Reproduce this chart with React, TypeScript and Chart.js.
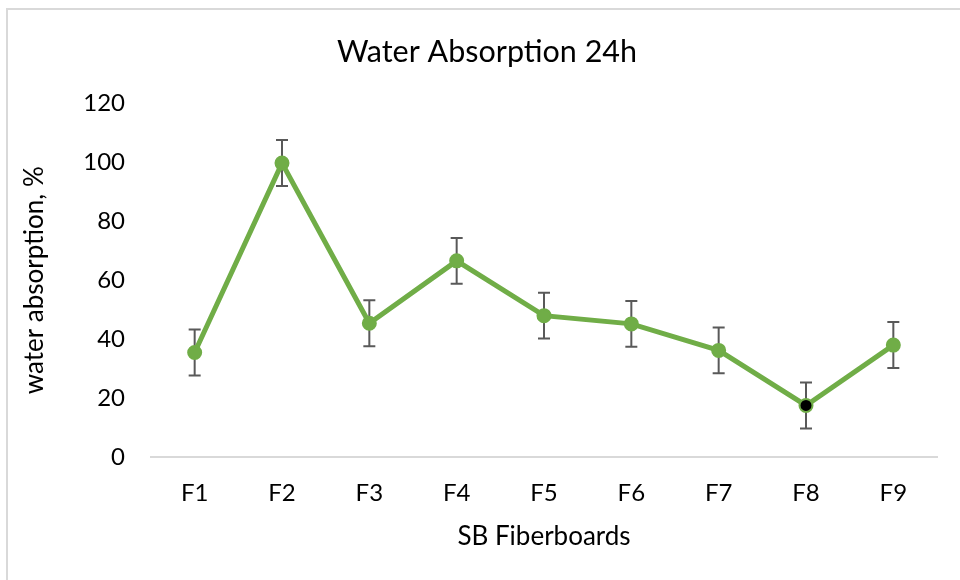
import React, { useEffect, useRef } from "react";
import { Chart, registerables } from "chart.js";

Chart.register(...registerables);

const categories = ["F1", "F2", "F3", "F4", "F5", "F6", "F7", "F8", "F9"];
const absorption = [35.5, 99.8, 45.4, 66.6, 48.0, 45.2, 36.2, 17.5, 38.0];
const errors = [7.8, 7.8, 7.8, 7.8, 7.8, 7.8, 7.8, 7.8, 7.8];
const yTicks = [0, 20, 40, 60, 80, 100, 120];

const GREEN = "#70ad47";
const FONT = "Lato, 'Open Sans', sans-serif";

const errorBarPlugin = {
  id: "errorBars",
  beforeDatasetsDraw(chart: any) {
    const { ctx, scales } = chart;
    const xs = scales.x;
    const ys = scales.y;
    ctx.save();
    ctx.strokeStyle = "#595959";
    ctx.lineWidth = 2;
    absorption.forEach((v, i) => {
      const x = xs.getPixelForValue(i);
      const yt = ys.getPixelForValue(v + errors[i]);
      const yb = ys.getPixelForValue(v - errors[i]);
      ctx.beginPath();
      ctx.moveTo(x, yt);
      ctx.lineTo(x, yb);
      ctx.moveTo(x - 6, yt);
      ctx.lineTo(x + 6, yt);
      ctx.moveTo(x - 6, yb);
      ctx.lineTo(x + 6, yb);
      ctx.stroke();
    });
    ctx.restore();
  },
};

const framePlugin = {
  id: "frame",
  beforeDraw(chart: any) {
    const { ctx, width, height } = chart;
    ctx.save();
    ctx.fillStyle = "#ffffff";
    ctx.fillRect(0, 0, width, height);
    ctx.strokeStyle = "#d9d9d9";
    ctx.lineWidth = 2;
    ctx.beginPath();
    ctx.moveTo(7, height);
    ctx.lineTo(7, 9);
    ctx.lineTo(width, 9);
    ctx.stroke();
    ctx.restore();
  },
};

export default function App() {
  const ref = useRef<HTMLCanvasElement | null>(null);

  useEffect(() => {
    if (!ref.current) return;
    const chart = new Chart(ref.current, {
      type: "line",
      data: {
        labels: categories,
        datasets: [
          {
            data: absorption,
            borderColor: GREEN,
            borderWidth: 5,
            pointRadius: 6.5,
            pointBorderWidth: 2,
            pointBorderColor: GREEN,
            pointBackgroundColor: categories.map((c) => (c === "F8" ? "#000000" : GREEN)),
            tension: 0,
            fill: false,
          },
        ],
      },
      options: {
        responsive: false,
        animation: false,
        layout: { padding: { left: 37, right: 23, top: 0, bottom: 0 } },
        plugins: {
          legend: { display: false },
          tooltip: { enabled: false },
          title: {
            display: true,
            text: "Water Absorption 24h",
            color: "#000000",
            font: { family: FONT, size: 30.5, weight: "normal" },
            padding: { top: 34, bottom: 33 },
          },
        },
        scales: {
          x: {
            offset: true,
            grid: { display: false, drawTicks: false },
            border: { display: true, color: "#d9d9d9", width: 2 },
            ticks: {
              color: "#000000",
              font: { family: FONT, size: 24 },
              padding: 22,
            },
            title: {
              display: true,
              text: "SB Fiberboards",
              color: "#000000",
              font: { family: FONT, size: 26 },
              padding: { top: 0, bottom: 28 },
            },
            afterFit(scale: any) {
              scale.height = 123;
            },
          },
          y: {
            min: 0,
            max: 120,
            afterBuildTicks(scale: any) {
              scale.ticks = yTicks.map((v) => ({ value: v }));
            },
            grid: { display: false, drawTicks: false },
            border: { display: false },
            ticks: {
              color: "#000000",
              font: { family: FONT, size: 24 },
              padding: 26,
            },
            title: {
              display: true,
              text: "water absorption, %",
              color: "#000000",
              font: { family: FONT, size: 26 },
              padding: { top: -17.6, bottom: 0 },
            },
            afterFit(scale: any) {
              scale.width = 114;
            },
          },
        },
      },
      plugins: [framePlugin, errorBarPlugin],
    });
    return () => chart.destroy();
  }, []);

  return (
    <div style={{ position: "fixed", left: 0, top: 0, width: 960, height: 580, background: "#fff" }}>
      <canvas ref={ref} width={960} height={580} />
    </div>
  );
}
